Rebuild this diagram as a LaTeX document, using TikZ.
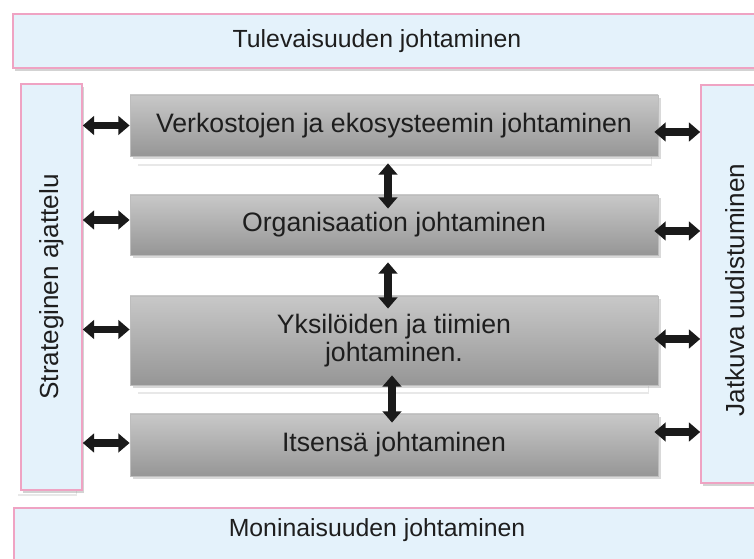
\documentclass[tikz,border=0pt]{standalone}
\usepackage{fontspec}
\setmainfont{Liberation Sans}
\usetikzlibrary{arrows.meta,calc,shadows}

\definecolor{pinkline}{HTML}{EFA3C3}
\definecolor{paleblue}{HTML}{E4F2FB}
\definecolor{greytop}{HTML}{C8C8C8}
\definecolor{greybot}{HTML}{969696}
\definecolor{greyline}{HTML}{BDBDBD}
\definecolor{arrowblack}{HTML}{1A1A1A}
\definecolor{textgrey}{HTML}{1E1E1E}

\tikzset{every picture/.style={line width=0.75pt}}
\tikzset{
	pinkbox/.style={draw=pinkline, line width=1.2pt, fill=paleblue, inner sep=0pt,
		drop shadow={opacity=0.35, shadow xshift=1.5pt, shadow yshift=-2.5pt}},
	greybox/.style={draw=greyline, line width=0.6pt, top color=greytop, bottom color=greybot,
		inner sep=0pt, text=textgrey, font=\fontsize{20}{21}\selectfont, align=center,
		minimum width=396pt,
		drop shadow={opacity=0.3, shadow xshift=2pt, shadow yshift=-2.5pt}},
	glint/.style={fill=white, draw=none,
		drop shadow={opacity=0.18, shadow xshift=0.5pt, shadow yshift=-1.2pt}},
	lbl/.style={text=textgrey, font=\fontsize{18.6}{21}\selectfont, inner sep=0pt},
	dblarrow/.style={draw=arrowblack, line width=5.4pt,
		{Triangle[length=8.5pt,width=14pt]}-{Triangle[length=8.5pt,width=14pt]}}
}
\newcommand{\sidetext}[1]{\rotatebox{90}{\fontsize{19.6}{21}\selectfont\color{textgrey}#1}}

\begin{document}
\begin{tikzpicture}[x=0.75pt,y=0.75pt,yscale=-1,xscale=1]
	\useasboundingbox (0,0) rectangle (754,559);
	
	% Frame boxes
	\draw [pinkbox] (13,14) rectangle (800,68);
	\draw [pinkbox] (14,508) rectangle (800,600);
	\path [glint] (17,480) rectangle (76,494);
	\node [pinkbox, minimum width=45.75pt, minimum height=304.5pt] (strat) at (51.5,287) {\sidetext{Strateginen ajattelu}};
	\node [pinkbox, minimum width=75pt, minimum height=298.5pt] (renew) at (751,284) {};
	
	% Text Node
	\node [lbl] (futuretxt) at (377,41) {Tulevaisuuden johtaminen};
	% Text Node
	\node [lbl] (diversetxt) at (377,530) {Moninaisuuden johtaminen};
	% Text Node
	\node [inner sep=0pt] (renewtxt) at (735.5,290) {\sidetext{Jatkuva uudistuminen}};
	
	% Levels
	\path [glint] (137,150) rectangle (651,164);
	\path [glint] (137,378) rectangle (648,392);
	\node [greybox, minimum height=45.75pt] (network) at (394,125.5) {Verkostojen ja ekosysteemin johtaminen};
	\node [greybox, minimum height=45pt] (org) at (394,225) {Organisaation johtaminen};
	\node [greybox, minimum height=66.75pt] (team) at (394,340.5) {Yksilöiden ja tiimien\\johtaminen.};
	\node [greybox, minimum height=46.5pt] (self) at (394,445) {Itsensä johtaminen};
	
	% Left arrows
	\draw [dblarrow] (strat.east |- network.west) -- (network.west);
	\draw [dblarrow] ($(strat.east |- org.west)+(0,-5)$) -- ($(org.west)+(0,-5)$);
	\draw [dblarrow] ($(strat.east |- team.west)+(0,-11)$) -- ($(team.west)+(0,-11)$);
	\draw [dblarrow] ($(strat.east |- self.west)+(0,-2)$) -- ($(self.west)+(0,-2)$);
	
	% Right arrows
	\draw [dblarrow] ($(network.east)+(-4,6.5)$) -- ($(renew.west |- network.east)+(0,6.5)$);
	\draw [dblarrow] ($(org.east)+(-4,6)$) -- ($(renew.west |- org.east)+(0,6)$);
	\draw [dblarrow] ($(team.east)+(-4,-1.5)$) -- ($(renew.west |- team.east)+(0,-1.5)$);
	\draw [dblarrow] ($(self.east)+(-4,-13)$) -- ($(renew.west |- self.east)+(0,-13)$);
	
	% Vertical arrows
	\draw [dblarrow] ($(network.south)+(-6,7)$) -- ($(org.north)+(-6,14)$);
	\draw [dblarrow] ($(org.south)+(-6,7)$) -- ($(team.north)+(-6,13)$);
	\draw [dblarrow] ($(team.south)+(-2,-10)$) -- ($(self.north)+(-2,9)$);
	
\end{tikzpicture}
\end{document}
